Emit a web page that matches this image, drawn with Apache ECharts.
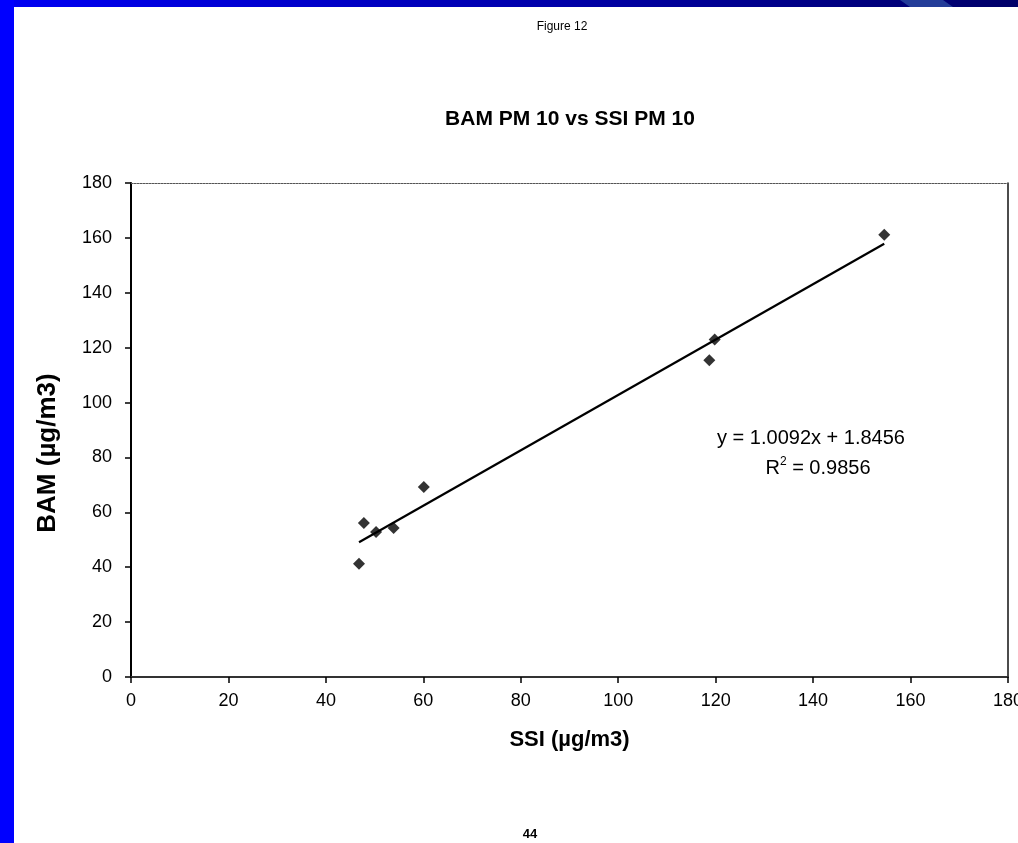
<!DOCTYPE html>
<html>
<head>
<meta charset="utf-8">
<script src="https://cdn.jsdelivr.net/npm/echarts@6/dist/echarts.min.js"></script>
<style>
html,body{margin:0;padding:0;background:#fff;overflow:hidden;}
#chart{width:1018px;height:843px;}
</style>
</head>
<body>
<div id="chart"></div>
<script>
// Data
const ssi = [46.8, 47.8, 50.3, 53.9, 60.1, 118.7, 119.8, 154.6];
const bam = [41.3, 56.1, 52.8, 54.3, 69.2, 115.4, 123.0, 161.1];
const slope = 1.0092;
const intercept = 1.8456;
const rSquared = 0.9856;
const xTicks = [0, 20, 40, 60, 80, 100, 120, 140, 160, 180];
const yTicks = [0, 20, 40, 60, 80, 100, 120, 140, 160, 180];

const points = ssi.map((x, i) => [x, bam[i]]);
const xMin = Math.min(...ssi), xMax = Math.max(...ssi);
const trend = [[xMin, slope * xMin + intercept], [xMax, slope * xMax + intercept]];

const FONT = "'Liberation Sans', Arial, Helvetica, sans-serif";
const chart = echarts.init(document.getElementById('chart'), null, {renderer: 'canvas'});

const option = {
  backgroundColor: '#ffffff',
  animation: false,
  title: {
    text: 'BAM PM 10 vs SSI PM 10',
    left: 565, top: 104, textAlign: 'center',
    textStyle: {fontFamily: FONT, fontSize: 21, fontWeight: 'bold', color: '#000'}
  },
  grid: {left: 131, right: 10, top: 183, bottom: 166, containLabel: false, outerBoundsMode: 'none'},
  xAxis: [{
    type: 'value', min: xTicks[0], max: xTicks[xTicks.length - 1], interval: xTicks[1] - xTicks[0],
    name: 'SSI (\u00b5g/m3)', nameLocation: 'middle', nameGap: 52,
    nameTextStyle: {fontFamily: FONT, fontSize: 22, fontWeight: 'bold', color: '#000', verticalAlign: 'top'},
    axisLine: {show: true, onZero: false, lineStyle: {color: '#333', width: 2}},
    axisTick: {show: true, inside: false, length: 6, lineStyle: {color: '#000', width: 1.5}},
    axisLabel: {fontFamily: FONT, fontSize: 18, color: '#000', margin: 15},
    splitLine: {show: false}
  }, {
    type: 'value', position: 'top', min: 0, max: 180,
    axisLine: {show: true, onZero: false, lineStyle: {color: '#555', width: 1, type: [2, 1]}},
    axisTick: {show: false}, axisLabel: {show: false}, splitLine: {show: false}
  }],
  yAxis: [{
    type: 'value', min: yTicks[0], max: yTicks[yTicks.length - 1], interval: yTicks[1] - yTicks[0],
    axisLine: {show: true, onZero: false, lineStyle: {color: '#000', width: 2}},
    axisTick: {show: true, inside: false, length: 6, lineStyle: {color: '#000', width: 1.5}},
    axisLabel: {fontFamily: FONT, fontSize: 18, color: '#000', margin: 19},
    splitLine: {show: false}
  }, {
    type: 'value', position: 'right', min: 0, max: 180,
    axisLine: {show: true, onZero: false, lineStyle: {color: '#111', width: 1.5}},
    axisTick: {show: false}, axisLabel: {show: false}, splitLine: {show: false}
  }],
  graphic: [
    {type: 'rect', shape: {x: 0, y: 0, width: 1018, height: 7}, z: 100,
     style: {fill: new echarts.graphic.LinearGradient(0, 0, 1, 0, [
       {offset: 0, color: '#0000f4'}, {offset: 0.55, color: '#0000a8'}, {offset: 1, color: '#000068'}])}},
    {type: 'polygon', shape: {points: [[900, 0], [943, 0], [953, 7], [910, 7]]}, z: 101,
     style: {fill: '#233c98'}},
    {type: 'rect', shape: {x: 0, y: 0, width: 14, height: 843}, z: 102, style: {fill: '#0000ff'}},
    {type: 'text', x: 562, y: 27, z: 50,
     style: {text: 'Figure 12', fontFamily: "'Liberation Sans Narrow', " + FONT, fontSize: 12, fill: '#000',
             align: 'center', verticalAlign: 'middle'}},
    {type: 'text', x: 530, y: 834, z: 50,
     style: {text: '44', fontFamily: "'Liberation Sans Narrow', " + FONT, fontSize: 13, fontWeight: 'bold', fill: '#000',
             align: 'center', verticalAlign: 'middle'}},
    {type: 'text', x: 48, y: 453, rotation: Math.PI / 2, z: 50,
     style: {text: 'BAM (\u00b5g/m3)', fontFamily: FONT, fontSize: 26, fontWeight: 'bold', fill: '#000',
             align: 'center', verticalAlign: 'middle'}},
    {type: 'text', x: 811, y: 438, z: 50,
     style: {text: 'y = ' + slope.toFixed(4) + 'x + ' + intercept.toFixed(4), fontFamily: FONT, fontSize: 20,
             fill: '#000', align: 'center', verticalAlign: 'middle'}},
    {type: 'text', x: 818, y: 467, z: 50,
     style: {text: '{r|R}{s|2}{r| = ' + rSquared.toFixed(4) + '}', fontFamily: FONT, fill: '#000',
             align: 'center', verticalAlign: 'middle',
             rich: {r: {fontFamily: FONT, fontSize: 20, fill: '#000', verticalAlign: 'bottom'},
                    s: {fontFamily: FONT, fontSize: 12, fill: '#000', verticalAlign: 'top', padding: [0, 0, 10, 0]}}}}
  ],
  series: [{
    type: 'line', data: trend, xAxisIndex: 0, yAxisIndex: 0, symbol: 'none',
    lineStyle: {color: '#000', width: 2.2}, z: 3
  }, {
    type: 'scatter', data: points, xAxisIndex: 0, yAxisIndex: 0, symbol: 'diamond', symbolSize: 12,
    itemStyle: {color: '#000'}, z: 4
  }]
};
chart.setOption(option);
</script>
</body>
</html>
